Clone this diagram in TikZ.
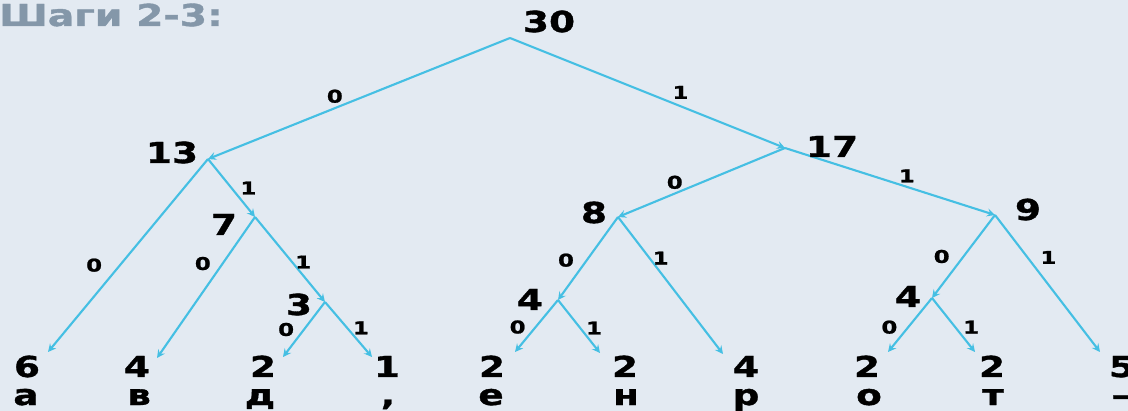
\documentclass[tikz,border=0pt]{standalone}
\usepackage{fontspec}
\setmainfont{DejaVu Sans}[FakeStretch=1.3,BoldFeatures={FakeBold=1.2}]
\usepackage{tikz}
\usetikzlibrary{calc}

\definecolor{bgBlue}{HTML}{E3EAF2}
\definecolor{edgeCyan}{HTML}{45BFE3}
\definecolor{titleGray}{HTML}{8497A9}

\begin{document}
\begin{tikzpicture}[x=0.025cm,y=-0.025cm,
    edge/.style={line width=1.5pt,-stealth,edgeCyan},
    bit/.style={text=black,font=\bfseries\fontsize{12.5}{13}\selectfont,inner sep=0pt},
    weight/.style={font=\bfseries\fontsize{20.5}{21}\selectfont,inner sep=0pt,anchor=base}]

    % Latar belakang dan batas gambar
    \clip (0,0) rectangle (1128,411);
    \fill[bgBlue] (0,0) rectangle (1128,411);

    % Judul
    \node[anchor=base west,inner sep=0pt,text=titleGray,font=\bfseries\fontsize{21.5}{22}\selectfont] (title) at (-1,26) {Шаги 2-3:};

    % Titik cabang pohon
    \coordinate (r) at (510,38);
    \coordinate (n13) at (208,159);
    \coordinate (n17) at (785,148);
    \coordinate (n7) at (255,217);
    \coordinate (n3) at (325,302);
    \coordinate (n8) at (618,217);
    \coordinate (n4a) at (558,300);
    \coordinate (n9) at (995,215);
    \coordinate (n4b) at (932,298);

    % Ujung panah di daun
    \coordinate (ta) at (48,352);
    \coordinate (tv) at (157,358);
    \coordinate (td) at (283,357);
    \coordinate (tc) at (372,357);
    \coordinate (te) at (515,352);
    \coordinate (tn) at (600,353);
    \coordinate (tr) at (723,354);
    \coordinate (to) at (888,352);
    \coordinate (tt) at (975,352);
    \coordinate (ts) at (1100,352);

    % Cabang kiri
    \draw[edge] (r) -- node[bit,pos=.58,above=3pt] {0} (n13);
    \draw[edge] (n13) -- node[bit,pos=.55,left=12pt] {0} (ta);
    \draw[edge] (n13) -- node[bit,pos=.5,right=5.6pt] {1} (n7);
    \draw[edge] (n7) -- node[bit,pos=.33,left=7.7pt] {0} (tv);
    \draw[edge] (n7) -- node[bit,pos=.53,right=1.5pt] {1} (n3);
    \draw[edge] (n3) -- node[bit,pos=.5,left=6.3pt] {0} (td);
    \draw[edge] (n3) -- node[bit,pos=.47,right=3.4pt] {1} (tc);

    % Cabang kanan
    \draw[edge] (r) -- node[bit,pos=.62,above=4.5pt] {1} (n17);
    \draw[edge] (n17) -- node[bit,pos=.66,above=2.5pt] {0} (n8);
    \draw[edge] (n17) -- node[bit,pos=.58,above=2.5pt] {1} (n9);
    \draw[edge] (n8) -- node[bit,pos=.52,left=8.4pt] {0} (n4a);
    \draw[edge] (n8) -- node[bit,pos=.3,right=1.5pt] {1} (tr);
    \draw[edge] (n4a) -- node[bit,pos=.52,left=6.4pt] {0} (te);
    \draw[edge] (n4a) -- node[bit,pos=.53,right=3.4pt] {1} (tn);
    \draw[edge] (n9) -- node[bit,pos=.5,left=9.1pt] {0} (n4b);
    \draw[edge] (n9) -- node[bit,pos=.31,right=8.4pt] {1} (ts);
    \draw[edge] (n4b) -- node[bit,pos=.54,left=7pt] {0} (to);
    \draw[edge] (n4b) -- node[bit,pos=.54,right=4.9pt] {1} (tt);

    % Bobot di titik cabang
    \node[weight] (w30) at (549,32) {30};
    \node[weight] (w13) at (172,163) {13};
    \node[weight] (w7) at (224,235) {7};
    \node[weight] (w3) at (299,315) {3};
    \node[weight] (w17) at (832,157) {17};
    \node[weight] (w8) at (594,223) {8};
    \node[weight] (w4a) at (530,310) {4};
    \node[weight] (w9) at (1028,220) {9};
    \node[weight] (w4b) at (908,307) {4};

    % Bobot daun
    \node[weight] (ca) at (27,377) {6};
    \node[weight] (cv) at (137,377) {4};
    \node[weight] (cd) at (263,377) {2};
    \node[weight] (cc) at (387,377) {1};
    \node[weight] (ce) at (492,377) {2};
    \node[weight] (cn) at (625,377) {2};
    \node[weight] (cr) at (746,377) {4};
    \node[weight] (co) at (867,377) {2};
    \node[weight] (ct) at (992,377) {2};
    \node[weight] (cs) at (1122,377) {5};

    % Huruf daun
    \node[weight] (ka) at (26,405) {а};
    \node[weight] (kv) at (139,405) {в};
    \node[weight] (kd) at (260,405) {д};
    \node[weight] (kc) at (388,405) {,};
    \node[weight] (ke) at (491,405) {е};
    \node[weight] (kn) at (626,405) {н};
    \node[weight] (kr) at (746,405) {р};
    \node[weight] (ko) at (869,405) {о};
    \node[weight] (kt) at (993,405) {т};
    \node[weight] (ks) at (1121,405) {–};

\end{tikzpicture}
\end{document}
